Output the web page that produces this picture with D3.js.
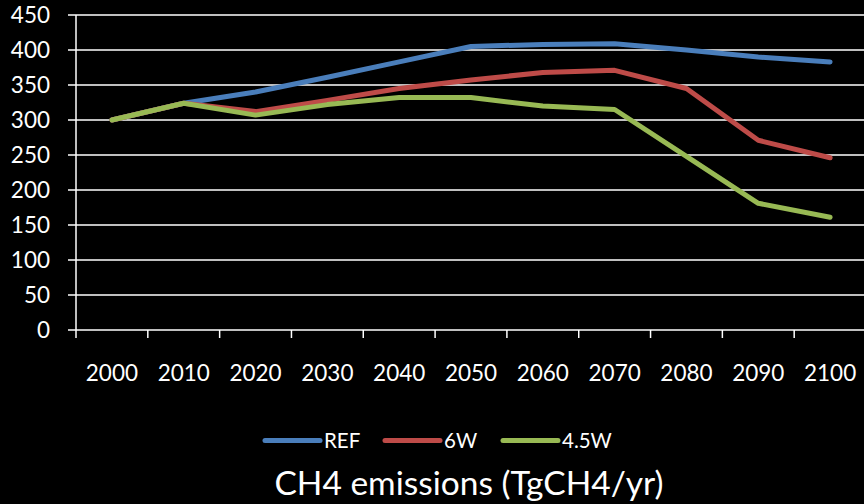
<!DOCTYPE html>
<html>
<head>
<meta charset="utf-8">
<script src="https://cdn.jsdelivr.net/npm/d3@7"></script>
<style>
  html, body { margin: 0; padding: 0; background: #000; }
  svg { display: block; }
  text { font-family: Lato, "Open Sans", sans-serif; fill: #fff; }
</style>
</head>
<body>
<svg id="chart" width="864" height="504"></svg>
<script>
// Years on the category axis
const years = ["2000", "2010", "2020", "2030", "2040", "2050", "2060", "2070", "2080", "2090", "2100"];
// CH4 emissions per scenario (TgCH4/yr)
const refValues = [300, 324, 340, 361, 383, 405, 408, 409, 400, 390, 383];
const w6Values  = [300, 324, 312, 328, 345, 357, 368, 371, 345, 271, 246];
const w45Values = [300, 324, 307, 322, 332, 332, 320, 315, 248, 181, 161];
const seriesNames = ["REF", "6W", "4.5W"];
const seriesColors = ["#4a7ebb", "#be4b48", "#98b954"];
const yTicks = [0, 50, 100, 150, 200, 250, 300, 350, 400, 450];

const series = [refValues, w6Values, w45Values].map((vals, i) => ({
  name: seriesNames[i], color: seriesColors[i], values: vals
}));

const svg = d3.select("#chart");
const margin = { left: 76, right: -2, top: 15, bottom: 174 };
const W = 864, H = 504;

const x = d3.scaleBand().domain(years).range([margin.left, W - margin.right]).padding(0);
const y = d3.scaleLinear().domain([0, 450]).range([H - margin.bottom, margin.top]);

// Horizontal gridlines, extended left to form the value-axis ticks
svg.append("g")
  .selectAll("line")
  .data(yTicks)
  .join("line")
  .attr("x1", margin.left - 8)
  .attr("x2", W)
  .attr("y1", d => y(d))
  .attr("y2", d => y(d))
  .attr("stroke", "#fff")
  .attr("stroke-width", 1.5);

// Value axis labels
const yAxis = d3.axisLeft(y).tickValues(yTicks).tickSize(0).tickPadding(26);
const gy = svg.append("g").attr("transform", `translate(${margin.left},0)`).call(yAxis);
gy.select(".domain").remove();
gy.selectAll("text").attr("font-size", 22.5).attr("font-family", "Lato").attr("fill", "#fff");

// Vertical axis line
svg.append("line")
  .attr("x1", margin.left).attr("x2", margin.left)
  .attr("y1", y(450)).attr("y2", y(0))
  .attr("stroke", "#fff").attr("stroke-width", 1.5);

// Category axis: tick marks on band boundaries, labels at band centres
const boundaries = years.map(d => x(d)).concat([x(years[years.length - 1]) + x.bandwidth()]);
svg.append("g")
  .selectAll("line")
  .data(boundaries)
  .join("line")
  .attr("x1", d => d).attr("x2", d => d)
  .attr("y1", y(0)).attr("y2", y(0) + 8)
  .attr("stroke", "#fff").attr("stroke-width", 1.5);

svg.append("g")
  .selectAll("text")
  .data(years)
  .join("text")
  .attr("x", d => x(d) + x.bandwidth() / 2)
  .attr("y", 381)
  .attr("text-anchor", "middle")
  .attr("font-size", 22.5)
  .text(d => d);

// Series lines
const line = d3.line()
  .x((d, i) => x(years[i]) + x.bandwidth() / 2)
  .y(d => y(d));

svg.append("g")
  .selectAll("path")
  .data(series)
  .join("path")
  .attr("d", d => line(d.values))
  .attr("fill", "none")
  .attr("stroke", d => d.color)
  .attr("stroke-width", 5)
  .attr("stroke-linejoin", "round")
  .attr("stroke-linecap", "round");

// Legend
const legendX = [265, 385, 503];
const legend = svg.append("g")
  .selectAll("g")
  .data(series)
  .join("g")
  .attr("transform", (d, i) => `translate(${legendX[i]},440.5)`);
legend.append("line")
  .attr("x1", 0).attr("x2", 55)
  .attr("stroke", d => d.color)
  .attr("stroke-width", 5)
  .attr("stroke-linecap", "round");
legend.append("text")
  .attr("x", 59)
  .attr("y", 7)
  .attr("font-size", 20.5)
  .text(d => d.name);

// Chart caption
svg.append("text")
  .attr("x", 469)
  .attr("y", 495)
  .attr("text-anchor", "middle")
  .attr("font-size", 33.5)
  .text("CH4 emissions (TgCH4/yr)");
</script>
</body>
</html>
